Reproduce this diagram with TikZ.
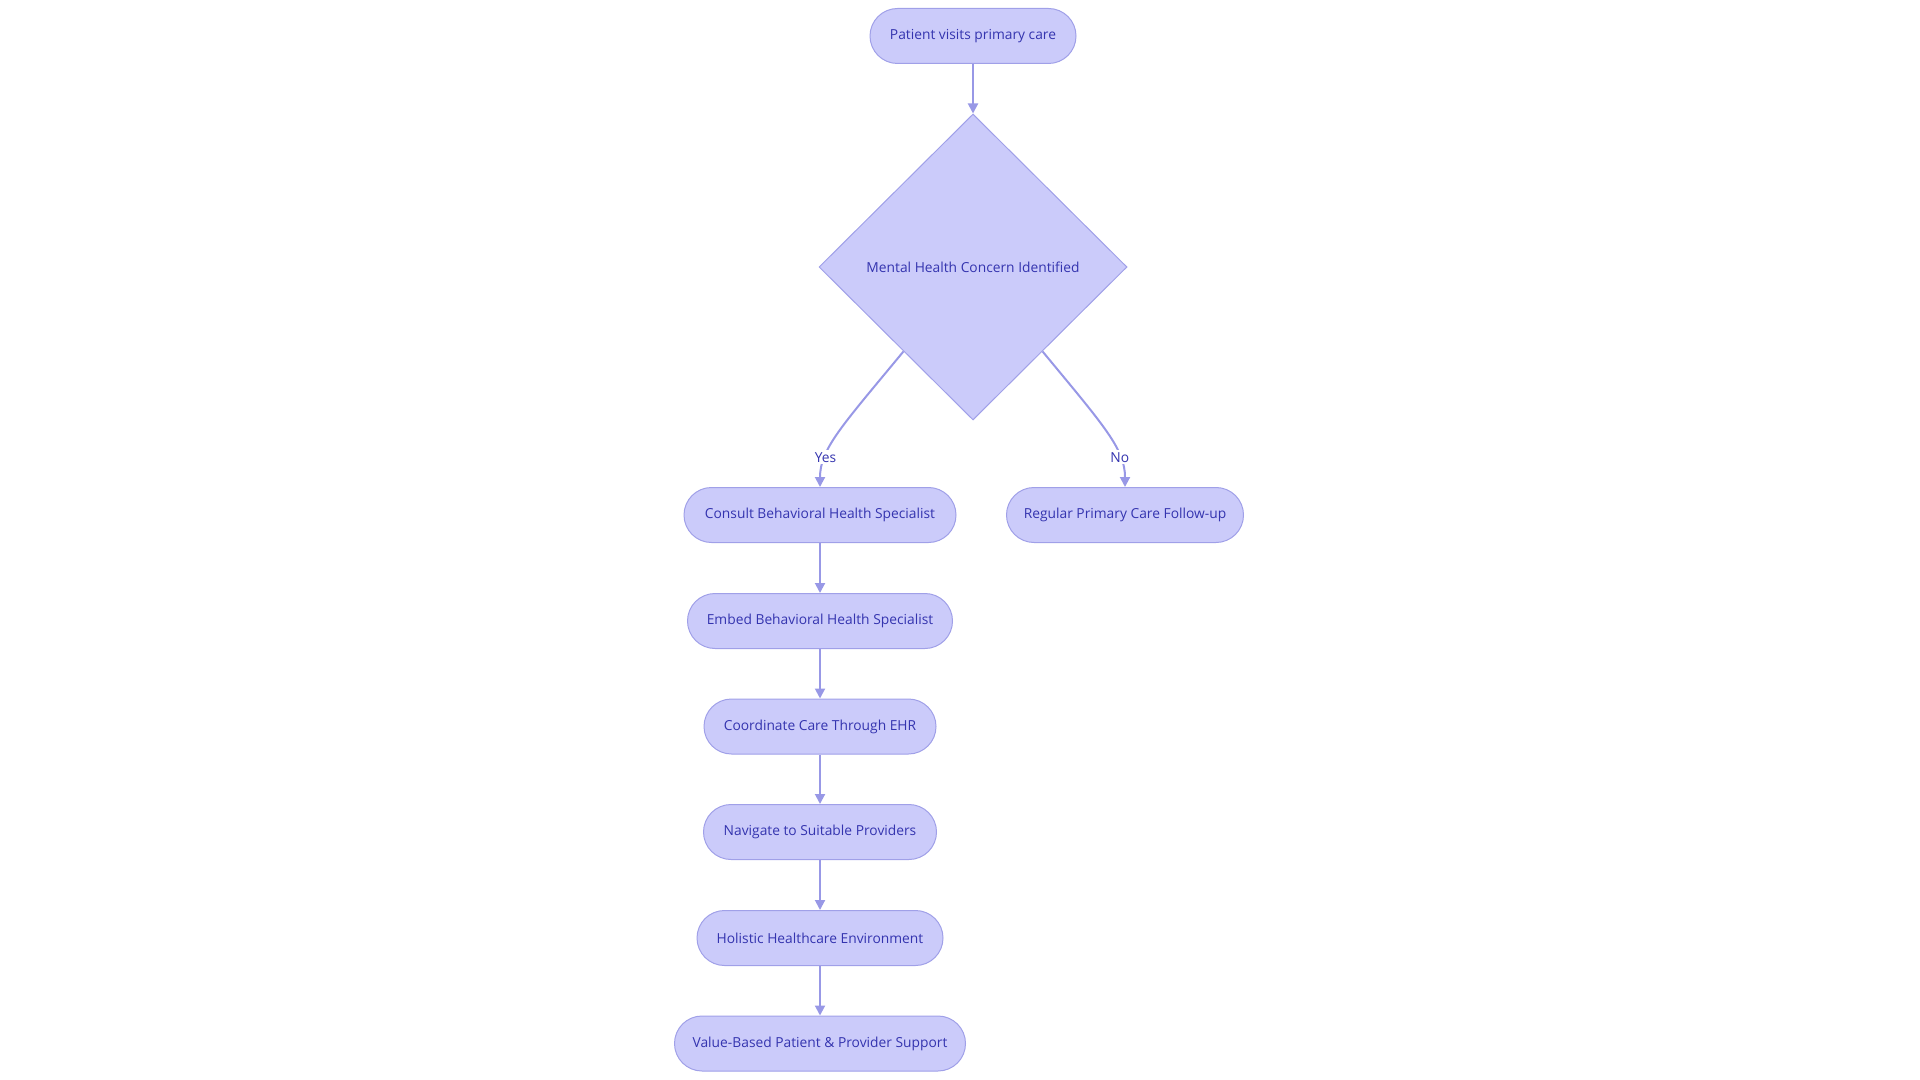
\documentclass[tikz,border=0pt]{standalone}
\usepackage{fontspec}
\setmainfont{Open Sans}
\usetikzlibrary{shapes.geometric,arrows.meta,calc}
\definecolor{nodefill}{RGB}{203,203,250}
\definecolor{nodeline}{RGB}{160,160,232}
\definecolor{txt}{RGB}{52,52,175}
\definecolor{edgecol}{RGB}{152,152,230}
\tikzset{
  boxnode/.style={draw=nodeline, line width=0.5pt, fill=nodefill, rounded corners=13.75pt,
    minimum height=27.5pt, inner sep=0pt, text=txt, font=\fontsize{6.9pt}{8pt}\selectfont},
  decision/.style={draw=nodeline, line width=0.5pt, fill=nodefill, diamond, aspect=1,
    minimum width=154pt, minimum height=153pt, inner sep=0pt, text=txt, font=\fontsize{6.9pt}{8pt}\selectfont},
  edge/.style={draw=edgecol, line width=1pt, -{Triangle[length=5pt,width=5pt]}},
  lbl/.style={fill=white, text=txt, inner sep=1pt, font=\fontsize{6.9pt}{8pt}\selectfont}
}
\begin{document}
\begin{tikzpicture}[x=0.5pt,y=-0.5pt]
\useasboundingbox (0,0) rectangle (1920,1080);
\node[boxnode, minimum width=103pt] (start) at (973,36) {Patient visits primary care};
\node[decision] (dec) at (973,267) {Mental Health Concern Identified};
\node[boxnode, minimum width=136pt] (consult) at (820,515) {Consult Behavioral Health Specialist};
\node[boxnode, minimum width=118.5pt] (regular) at (1125,515) {Regular Primary Care Follow-up};
\node[boxnode, minimum width=132.5pt] (embed) at (820,621) {Embed Behavioral Health Specialist};
\node[boxnode, minimum width=116pt] (coord) at (820,726.5) {Coordinate Care Through EHR};
\node[boxnode, minimum width=116.5pt] (nav) at (820,832) {Navigate to Suitable Providers};
\node[boxnode, minimum width=123pt] (hol) at (820,938) {Holistic Healthcare Environment};
\node[boxnode, minimum width=145.5pt] (val) at (820,1043.5) {Value-Based Patient \& Provider Support};

\coordinate (yesstart) at ($(dec.west)!0.55!(dec.south)$);
\coordinate (nostart) at ($(dec.east)!0.55!(dec.south)$);

\draw[edge] (start.south) -- (dec.north);
\draw[edge] (yesstart) .. controls +(-62,75) and +(0,-38) .. (consult.north)
  node[lbl, pos=0.72] (yeslbl) {Yes};
\draw[edge] (nostart) .. controls +(62,75) and +(0,-38) .. (regular.north)
  node[lbl, pos=0.72] (nolbl) {No};
\draw[edge] (consult.south) -- (embed.north);
\draw[edge] (embed.south) -- (coord.north);
\draw[edge] (coord.south) -- (nav.north);
\draw[edge] (nav.south) -- (hol.north);
\draw[edge] (hol.south) -- (val.north);
\end{tikzpicture}
\end{document}
